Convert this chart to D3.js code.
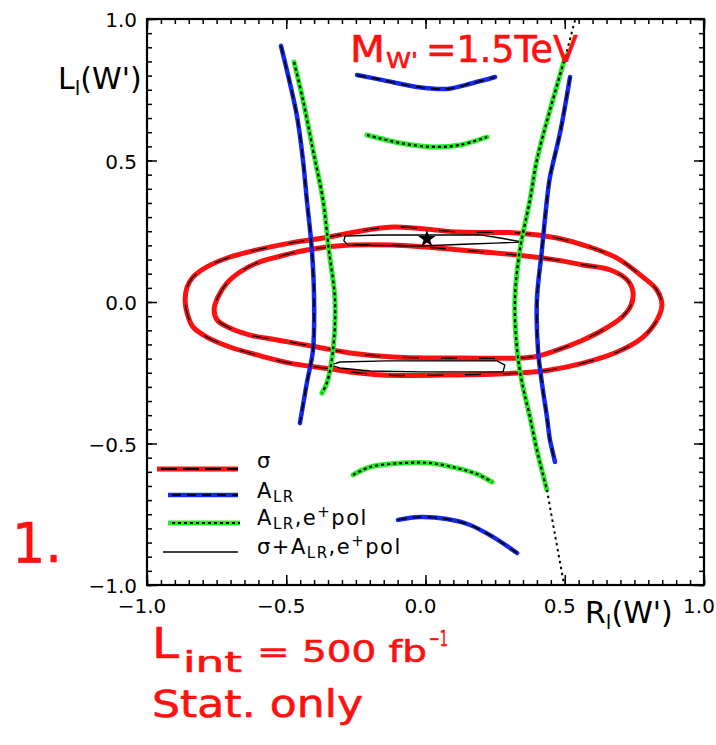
<!DOCTYPE html>
<html>
<head>
<meta charset="utf-8">
<script src="https://cdn.jsdelivr.net/npm/d3@7"></script>
<style>
  body { margin: 0; background: #fff; }
  svg { display: block; }
</style>
</head>
<body>
<svg id="chart" width="716" height="745"></svg>
<script>
// ---- axis ticks ----
const xTickLabels = [-1.0, -0.5, 0.0, 0.5, 1.0];
const yTickLabels = [-1.0, -0.5, 0.0, 0.5, 1.0];

// ---- sigma contours (R_l, L_l) ----
const sigmaOuter = [
  [-0.863, 0.007], [-0.856, 0.053], [-0.835, 0.088], [-0.785, 0.124], [-0.702, 0.159],
  [-0.605, 0.184], [-0.487, 0.208], [-0.368, 0.226], [-0.271, 0.244], [-0.117, 0.265],
  [0.124, 0.247], [0.329, 0.244], [0.472, 0.226], [0.591, 0.194], [0.688, 0.155],
  [0.781, 0.088], [0.831, 0.042], [0.849, -0.011], [0.831, -0.064], [0.781, -0.124],
  [0.688, -0.177], [0.566, -0.216], [0.447, -0.240], [0.329, -0.251], [0.088, -0.258],
  [-0.153, -0.258], [-0.271, -0.247], [-0.368, -0.233], [-0.487, -0.216], [-0.605, -0.187],
  [-0.702, -0.159], [-0.785, -0.124], [-0.835, -0.088], [-0.856, -0.039]
];
const sigmaInner = [
  [-0.759, -0.028], [-0.745, 0.018], [-0.713, 0.067], [-0.666, 0.106], [-0.605, 0.138],
  [-0.533, 0.159], [-0.426, 0.184], [-0.271, 0.201], [-0.117, 0.201], [0.124, 0.184],
  [0.329, 0.166], [0.472, 0.148], [0.566, 0.131], [0.664, 0.113], [0.724, 0.078],
  [0.745, 0.035], [0.738, -0.011], [0.706, -0.053], [0.637, -0.099], [0.566, -0.134],
  [0.472, -0.170], [0.386, -0.194], [0.124, -0.198], [-0.117, -0.194], [-0.271, -0.180],
  [-0.390, -0.159], [-0.533, -0.134], [-0.630, -0.117], [-0.702, -0.092], [-0.748, -0.064]
];

// ---- combined sigma + A_LR, e+ pol contours ----
const comboTop = [
  [-0.289, 0.233], [-0.163, 0.237], [0.005, 0.237], [0.196, 0.237], [0.268, 0.226],
  [0.347, 0.212], [0.250, 0.208], [0.160, 0.205], [-0.020, 0.198], [-0.278, 0.201],
  [-0.293, 0.216]
];
const comboBottom = [
  [-0.343, -0.223], [-0.307, -0.212], [-0.138, -0.208], [0.099, -0.208], [0.257, -0.208],
  [0.285, -0.223], [0.278, -0.247], [0.221, -0.247], [-0.020, -0.247], [-0.199, -0.244],
  [-0.307, -0.233]
];

// ---- A_LR contours ----
const alrLeft = [
  [-0.519, 0.905], [-0.487, 0.774], [-0.461, 0.654], [-0.440, 0.502], [-0.426, 0.360],
  [-0.408, 0.184], [-0.400, 0.007], [-0.404, -0.170], [-0.426, -0.286], [-0.451, -0.428]
];
const alrRight = [
  [0.519, 0.795], [0.483, 0.597], [0.447, 0.442], [0.436, 0.360], [0.418, 0.184],
  [0.400, 0.007], [0.404, -0.170], [0.418, -0.286], [0.436, -0.406], [0.447, -0.488],
  [0.465, -0.565]
];
const alrTop = [
  [-0.246, 0.802], [-0.153, 0.784], [-0.031, 0.760], [0.077, 0.753], [0.171, 0.774], [0.250, 0.795]
];
const alrBottom = [
  [-0.099, -0.770], [-0.020, -0.760], [0.077, -0.767], [0.160, -0.788], [0.242, -0.830], [0.329, -0.887]
];

// ---- A_LR with e+ polarisation contours ----
const polLeft = [
  [-0.472, 0.848], [-0.440, 0.714], [-0.404, 0.537], [-0.368, 0.360], [-0.347, 0.184],
  [-0.325, 0.007], [-0.332, -0.170], [-0.354, -0.286], [-0.372, -0.322]
];
const polRight = [
  [0.504, 0.873], [0.447, 0.678], [0.400, 0.502], [0.375, 0.360], [0.339, 0.184],
  [0.321, 0.007], [0.329, -0.170], [0.347, -0.286], [0.375, -0.406], [0.400, -0.523],
  [0.436, -0.664]
];
const polRightUpper = [[0.537, 0.996], [0.504, 0.873]];
const polRightLower = [[0.436, -0.664], [0.465, -0.823], [0.496, -0.990]];
const polTop = [
  [-0.210, 0.590], [-0.092, 0.562], [0.027, 0.548], [0.124, 0.555], [0.221, 0.583]
];
const polBottom = [
  [-0.260, -0.611], [-0.199, -0.583], [-0.081, -0.569], [0.016, -0.569], [0.113, -0.587],
  [0.185, -0.608], [0.239, -0.636]
];

// Standard Model point
const smPoint = [0.005, 0.223];

// ---- colours ----
const RED = "#ff1010", BLUE = "#1428f0", GREEN = "#22ee22";

const svg = d3.select("#chart");
const X0 = 147, X1 = 704, Y0 = 19, Y1 = 585;
const x = d3.scaleLinear().domain([-1, 1]).range([X0, X1]);
const y = d3.scaleLinear().domain([-1, 1]).range([Y1, Y0]);

const openLine = d3.line().x(d => x(d[0])).y(d => y(d[1])).curve(d3.curveCatmullRom.alpha(0.5));
const closedLine = d3.line().x(d => x(d[0])).y(d => y(d[1])).curve(d3.curveCatmullRomClosed.alpha(0.5));
const loopLine = d3.line().x(d => x(d[0])).y(d => y(d[1])).curve(d3.curveLinearClosed);

const plot = svg.append("g");

// sigma: thick red with the thin black contour showing through
[sigmaOuter, sigmaInner].forEach(c => {
  plot.append("path").attr("d", closedLine(c)).attr("fill", "none")
    .attr("stroke", RED).attr("stroke-width", 5).attr("stroke-linejoin", "round");
});
[sigmaOuter, sigmaInner].forEach(c => {
  plot.append("path").attr("d", closedLine(c)).attr("fill", "none")
    .attr("stroke", "#000").attr("stroke-width", 1.3).attr("stroke-dasharray", "16,22");
});

// combined contours: thin black loops
[comboTop, comboBottom].forEach(c => {
  plot.append("path").attr("d", loopLine(c)).attr("fill", "none")
    .attr("stroke", "#000").attr("stroke-width", 1.4).attr("stroke-linejoin", "round");
});

// A_LR: blue with black dashes
[alrLeft, alrRight, alrTop, alrBottom].forEach(c => {
  plot.append("path").attr("d", openLine(c)).attr("fill", "none")
    .attr("stroke", BLUE).attr("stroke-width", 4.5).attr("stroke-linecap", "round");
  plot.append("path").attr("d", openLine(c)).attr("fill", "none")
    .attr("stroke", "#000").attr("stroke-width", 1.8).attr("stroke-dasharray", "9,6");
});

// A_LR, e+ pol: green with black dots
[polLeft, polRight, polTop, polBottom].forEach(c => {
  plot.append("path").attr("d", openLine(c)).attr("fill", "none")
    .attr("stroke", GREEN).attr("stroke-width", 5).attr("stroke-linecap", "round");
  plot.append("path").attr("d", openLine(c)).attr("fill", "none")
    .attr("stroke", "#000").attr("stroke-width", 2.2).attr("stroke-dasharray", "3,3");
});
[polRightUpper, polRightLower].forEach(c => {
  plot.append("path").attr("d", openLine(c)).attr("fill", "none")
    .attr("stroke", "#000").attr("stroke-width", 2).attr("stroke-dasharray", "2.5,3.5");
});

// SM star
plot.append("path")
  .attr("d", d3.symbol().type(d3.symbolStar).size(95)())
  .attr("transform", `translate(${x(smPoint[0])},${y(smPoint[1])})`)
  .attr("fill", "#000");

// ---- frame and ticks ----
const minorTicks = d3.range(-20, 21).map(i => i / 20);
const majorTicks = [-1, -0.5, 0, 0.5, 1];

function tickAxis(axisFn, scale, vals, size, tx, ty) {
  const g = svg.append("g").attr("transform", `translate(${tx},${ty})`)
    .call(axisFn(scale).tickValues(vals).tickSize(-size).tickFormat(""));
  g.select(".domain").remove();
  g.selectAll("line").attr("stroke", "#000").attr("stroke-width", 1.5);
}
tickAxis(d3.axisBottom, x, minorTicks, 5, 0, Y1);
tickAxis(d3.axisBottom, x, majorTicks, 10, 0, Y1);
tickAxis(d3.axisTop, x, minorTicks, 5, 0, Y0);
tickAxis(d3.axisTop, x, majorTicks, 10, 0, Y0);
tickAxis(d3.axisLeft, y, minorTicks, 5, X0, 0);
tickAxis(d3.axisLeft, y, majorTicks, 10, X0, 0);
tickAxis(d3.axisRight, y, minorTicks, 5, X1, 0);
tickAxis(d3.axisRight, y, majorTicks, 10, X1, 0);

svg.append("rect").attr("x", X0).attr("y", Y0).attr("width", X1 - X0).attr("height", Y1 - Y0)
  .attr("fill", "none").attr("stroke", "#000").attr("stroke-width", 2.2);

const fmt = d3.format(".1f");
const FONT = "'DejaVu Sans', sans-serif";

svg.append("g").selectAll("text").data(xTickLabels).join("text")
  .attr("x", d => x(d) - 5).attr("y", 613)
  .attr("text-anchor", "middle").attr("font-family", FONT).attr("font-size", 20)
  .text(d => fmt(d));

svg.append("g").selectAll("text").data(yTickLabels).join("text")
  .attr("x", 137).attr("y", d => y(d) + 8)
  .attr("text-anchor", "end").attr("font-family", FONT).attr("font-size", 20)
  .text(d => fmt(d));

// axis titles
function axisTitle(tx, ty, main) {
  const t = svg.append("text").attr("x", tx).attr("y", ty)
    .attr("font-family", FONT).attr("font-size", 30);
  t.append("tspan").text(main);
  t.append("tspan").attr("font-size", 20).attr("dy", 6).text("l");
  t.append("tspan").attr("dy", -6).text("(W')");
}
axisTitle(58, 89, "L");
axisTitle(585, 623, "R");

// ---- legend ----
// each label is a list of [text, role] pieces: role n = normal, b = subscript, p = superscript
const legendLabels = [
  [["σ", "n"]],
  [["A", "n"], ["LR", "b"]],
  [["A", "n"], ["LR", "b"], [",e", "n"], ["+", "p"], ["pol", "n"]],
  [["σ+A", "n"], ["LR", "b"], [",e", "n"], ["+", "p"], ["pol", "n"]]
];
const legendRows = [
  { y: 469, x0: 157, x1: 238, color: RED, w: 5, over: "16,6" },
  { y: 495, x0: 168, x1: 238, color: BLUE, w: 4.5, over: "9,6" },
  { y: 523, x0: 168, x1: 240, color: GREEN, w: 5, over: "3,3" },
  { y: 552, x0: 163, x1: 238, color: null, w: 1.4, over: null }
];
const textBase = [468, 498, 525, 554];
const shift = { n: 0, b: 4, p: -8 };

legendRows.forEach((r, i) => {
  if (r.color) {
    svg.append("line").attr("x1", r.x0).attr("x2", r.x1).attr("y1", r.y).attr("y2", r.y)
      .attr("stroke", r.color).attr("stroke-width", r.w);
    svg.append("line").attr("x1", r.x0 + 4).attr("x2", r.x1).attr("y1", r.y).attr("y2", r.y)
      .attr("stroke", "#000").attr("stroke-width", 1.8).attr("stroke-dasharray", r.over);
  } else {
    svg.append("line").attr("x1", r.x0).attr("x2", r.x1).attr("y1", r.y).attr("y2", r.y)
      .attr("stroke", "#000").attr("stroke-width", r.w);
  }
  const t = svg.append("text").attr("x", 257).attr("y", textBase[i])
    .attr("font-family", FONT).attr("font-size", 21).attr("letter-spacing", 1.5);
  let cur = 0;
  legendLabels[i].forEach(([s, role]) => {
    const target = shift[role];
    t.append("tspan").attr("dy", target - cur)
      .attr("font-size", role === "n" ? 21 : 15).text(s);
    cur = target;
  });
});

// ---- handwritten annotations ----
const note = (tx, ty, size, str, len) => {
  const t = svg.append("text").attr("x", tx).attr("y", ty)
    .attr("font-family", FONT).attr("font-size", size)
    .attr("fill", RED).attr("stroke", RED).attr("stroke-width", 0.6)
    .attr("stroke-linejoin", "round").text(str);
  if (len) t.attr("textLength", len).attr("lengthAdjust", "spacingAndGlyphs");
  return t;
};
note(350, 62, 37, "M", 35);
note(386, 68, 22, "W'", 32);
note(426, 62, 37, "=1.5TeV", 152);

note(152, 658, 42, "L", 27);
note(183, 672, 28, "int", 59);
note(257, 662, 31, "= 500 fb", 170);
note(429, 646, 22, "−1", 19);
note(152, 717, 37, "Stat. only", 211);
note(12, 562, 55, "1.", 50);
</script>
</body>
</html>
